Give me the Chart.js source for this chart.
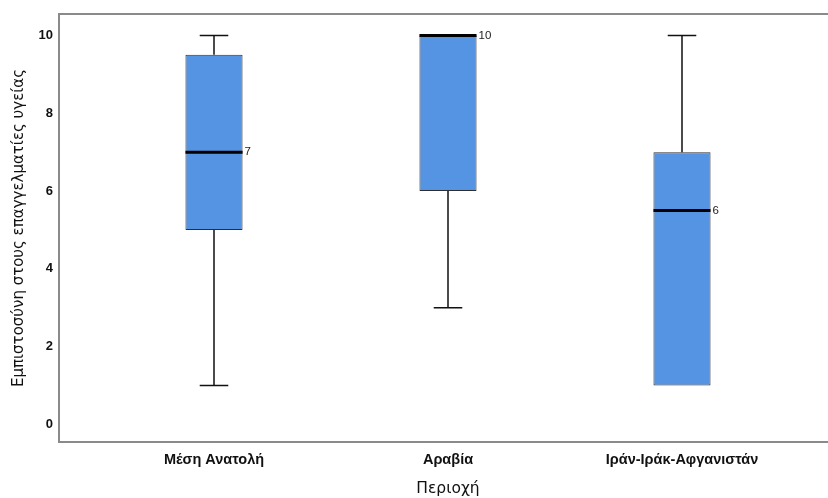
<!DOCTYPE html>
<html><head><meta charset="utf-8">
<script src="https://cdn.jsdelivr.net/npm/chart.js@4"></script>
<style>html,body{margin:0;padding:0;background:#fff}#wrap{width:828px;height:498px}</style>
</head><body><div id="wrap"><canvas id="c"></canvas></div>
<script>
const categories = ['Μέση Ανατολή', 'Αραβία', 'Ιράν-Ιράκ-Αφγανιστάν'];
const whiskerLow = [1, 3, 1];
const q1 = [5, 6, 1];
const median = [7, 10, 5.5];
const q3 = [9.5, 10, 7];
const whiskerHigh = [10, 10, 10];
const medianLabels = ['7', '10', '6'];
const yTicks = [0, 2, 4, 6, 8, 10];

const FONT = "'Liberation Sans', Arial, sans-serif";
const TFONT = "'DejaVu Sans', sans-serif";

const boxPlugin = {
  id: 'boxplot',
  afterDatasetsDraw(chart) {
    const { ctx, scales: { x, y }, chartArea: ca } = chart;
    const meta = chart.getDatasetMeta(0);
    ctx.save();
    // frame
    ctx.strokeStyle = '#8a8a8a';
    ctx.lineWidth = 2;
    const fl = ca.left - 38, fr = chart.width;
    ctx.beginPath();
    ctx.moveTo(fr, ca.top); ctx.lineTo(fl, ca.top); ctx.lineTo(fl, ca.bottom); ctx.lineTo(fr, ca.bottom);
    ctx.stroke();

    meta.data.forEach((bar, i) => {
      const cx = x.getPixelForValue(i);
      const half = bar.width / 2;
      const capHalf = half * 0.5;
      const pQ1 = y.getPixelForValue(q1[i]);
      const pQ3 = y.getPixelForValue(q3[i]);
      const pLo = y.getPixelForValue(whiskerLow[i]);
      const pHi = y.getPixelForValue(whiskerHigh[i]);
      const pMed = y.getPixelForValue(median[i]);
      ctx.strokeStyle = '#111';
      ctx.lineWidth = 1.5;
      if (whiskerHigh[i] > q3[i]) {
        ctx.beginPath();
        ctx.moveTo(cx, pQ3); ctx.lineTo(cx, pHi);
        ctx.moveTo(cx - capHalf, pHi); ctx.lineTo(cx + capHalf, pHi);
        ctx.stroke();
      }
      if (whiskerLow[i] < q1[i]) {
        ctx.beginPath();
        ctx.moveTo(cx, pQ1); ctx.lineTo(cx, pLo);
        ctx.moveTo(cx - capHalf, pLo); ctx.lineTo(cx + capHalf, pLo);
        ctx.stroke();
      }
      ctx.strokeStyle = '#000';
      ctx.lineWidth = 3;
      ctx.beginPath();
      ctx.moveTo(cx - half, pMed); ctx.lineTo(cx + half, pMed);
      ctx.stroke();
      ctx.fillStyle = '#222';
      ctx.font = '11.5px ' + FONT;
      ctx.textAlign = 'left';
      ctx.textBaseline = 'middle';
      ctx.fillText(medianLabels[i], cx + half + 2, pMed);
    });
    ctx.restore();
  }
};

new Chart(document.getElementById('c'), {
  type: 'bar',
  data: {
    labels: categories,
    datasets: [{
      data: categories.map((_, i) => [q1[i], q3[i]]),
      backgroundColor: '#5494e2',
      borderColor: '#2e2e2e',
      borderWidth: 1,
      borderSkipped: false,
      barPercentage: 0.244,
      categoryPercentage: 1
    }]
  },
  options: {
    responsive: true,
    maintainAspectRatio: false,
    animation: false,
    layout: { padding: { top: 14, right: 29, left: 0, bottom: 0 } },
    plugins: { legend: { display: false }, tooltip: { enabled: false } },
    scales: {
      x: {
        grid: { display: false, drawTicks: false },
        border: { display: false },
        afterFit(s) { s.height = 56; },
        ticks: { color: '#111', padding: 9, font: { family: FONT, size: 14.5, weight: 'bold' } },
        title: { display: true, text: 'Περιοχή', color: '#111', padding: { top: 0, bottom: 0 }, font: { family: TFONT, size: 15.5 } }
      },
      y: {
        min: -0.45,
        max: 10.55,
        afterBuildTicks(s) { s.ticks = yTicks.map(v => ({ value: v })); },
        afterFit(s) { s.width = 97; s.paddingTop = 0; s.paddingBottom = 0; },
        grid: { display: false, drawTicks: false },
        border: { display: false },
        ticks: { color: '#111', padding: 44, font: { family: FONT, size: 13, weight: 'bold' } },
        title: { display: true, text: 'Εμπιστοσύνη στους επαγγελματίες υγείας', color: '#111', padding: { top: 10, bottom: 0 }, font: { family: TFONT, size: 15 } }
      }
    }
  },
  plugins: [boxPlugin]
});
</script></body></html>
